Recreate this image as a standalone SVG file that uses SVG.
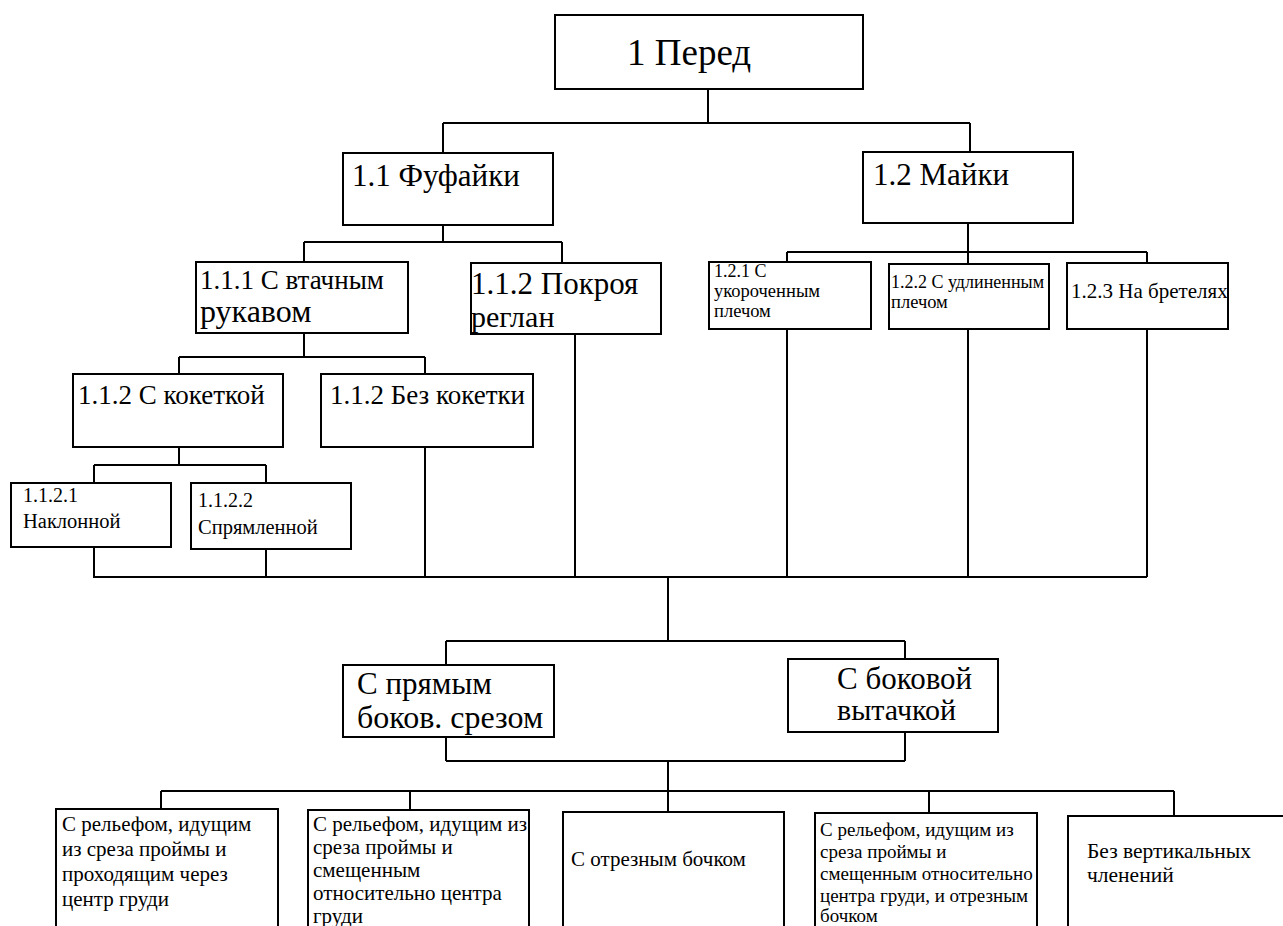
<svg xmlns="http://www.w3.org/2000/svg" width="1283" height="926" viewBox="0 0 1283 926">
<style>
rect{fill:#fff;stroke:#000;stroke-width:2}
#connectors path{fill:none;stroke:#000;stroke-width:2}
text,tspan{fill:#000;font-family:"Liberation Serif","Times New Roman",serif}
</style>
<rect x="0" y="0" width="1283" height="926" style="stroke:none"/>
<g id="connectors">
<path d="M708 89V123M443 123H970M443 123V153M970 123V152"/>
<path d="M443 225V242M304 242H562M304 242V262M562 242V263"/>
<path d="M968 223V252M787 252H1147M787 252V262M968 252V264M1147 252V263"/>
<path d="M304 333V357M179 357H425M179 357V374M425 357V374"/>
<path d="M179 447V465M94 465H266M94 465V483M266 465V483"/>
<path d="M94 547V577M266 549V577M425 447V577M575 334V577M787 329V577M968 329V577M1147 329V577M93 577H1147"/>
<path d="M668 577V641M446 641H905M446 641V665M905 641V659"/>
<path d="M446 737V761M905 732V761M446 761H905M668 761V812"/>
<path d="M161 791H1174M161 791V809M410 791V810M929 791V813M1174 791V816"/>
</g>
<g id="n1"><rect x="555" y="15" width="308" height="74"/><text x="627" y="65" font-size="37">1 Перед</text></g>
<g id="n11"><rect x="343" y="153" width="210" height="72"/><text x="352" y="186" font-size="31">1.1 Фуфайки</text></g>
<g id="n12"><rect x="863" y="152" width="210" height="71"/><text x="873" y="185" font-size="31">1.2 Майки</text></g>
<g id="n111"><rect x="196" y="262" width="212" height="71"/><text x="200" y="289" font-size="27">1.1.1 С втачным</text><text x="200" y="322" font-size="32">рукавом</text></g>
<g id="n112r"><rect x="471" y="263" width="190" height="71"/><text x="471" y="294" font-size="31">1.1.2 Покроя</text><text x="471" y="327" font-size="30">реглан</text></g>
<g id="n112k"><rect x="73" y="374" width="210" height="73"/><text x="78" y="404" font-size="27">1.1.2 С кокеткой</text></g>
<g id="n112b"><rect x="321" y="374" width="212" height="73"/><text x="330" y="404" font-size="27">1.1.2 Без кокетки</text></g>
<g id="n1121"><rect x="11" y="483" width="160" height="64"/><text x="23" y="502" font-size="20">1.1.2.1</text><text x="23" y="528" font-size="20.5">Наклонной</text></g>
<g id="n1122"><rect x="191" y="483" width="160" height="66"/><text x="198" y="507" font-size="20">1.1.2.2</text><text x="198" y="534" font-size="20.5">Спрямленной</text></g>
<g id="n121"><rect x="709" y="262" width="162" height="67"/><text x="714" y="277" font-size="18">1.2.1 С</text><text x="714" y="297" font-size="18.5">укороченным</text><text x="714" y="317" font-size="18.5">плечом</text></g>
<g id="n122"><rect x="889" y="264" width="160" height="65"/><text x="891" y="288" font-size="18">1.2.2 С удлиненным</text><text x="891" y="308" font-size="18.5">плечом</text></g>
<g id="n123"><rect x="1067" y="263" width="161" height="66"/><text x="1071" y="298" font-size="21">1.2.3 На бретелях</text></g>
<g id="nstraight"><rect x="343" y="665" width="211" height="72"/><text x="357" y="694" font-size="31">С прямым</text><text x="357" y="728" font-size="32">боков. срезом</text></g>
<g id="ndart"><rect x="788" y="659" width="210" height="73"/><text x="837" y="689" font-size="31">С боковой</text><text x="837" y="720" font-size="30">вытачкой</text></g>
<g id="b1"><rect x="56" y="809" width="222" height="130"/><text font-size="21"><tspan x="62" y="831">С рельефом, идущим</tspan><tspan x="62" y="856">из среза проймы и</tspan><tspan x="62" y="881">проходящим через</tspan><tspan x="62" y="906">центр груди</tspan></text></g>
<g id="b2"><rect x="308" y="810" width="221" height="130"/><text font-size="21"><tspan x="313" y="831">С рельефом, идущим из</tspan><tspan x="313" y="854">среза проймы и</tspan><tspan x="313" y="877">смещенным</tspan><tspan x="313" y="900">относительно центра</tspan><tspan x="313" y="923">груди</tspan></text></g>
<g id="b3"><rect x="563" y="812" width="221" height="130"/><text x="571" y="866" font-size="21">С отрезным бочком</text></g>
<g id="b4"><rect x="815" y="813" width="222" height="130"/><text font-size="19"><tspan x="820" y="836">С рельефом, идущим из</tspan><tspan x="820" y="858">среза проймы и</tspan><tspan x="820" y="880">смещенным относительно</tspan><tspan x="820" y="902">центра груди, и отрезным</tspan><tspan x="820" y="922">бочком</tspan></text></g>
<g id="b5"><rect x="1068" y="816" width="230" height="130"/><text font-size="21.5"><tspan x="1087" y="858">Без вертикальных</tspan><tspan x="1087" y="882">членений</tspan></text></g>
</svg>
